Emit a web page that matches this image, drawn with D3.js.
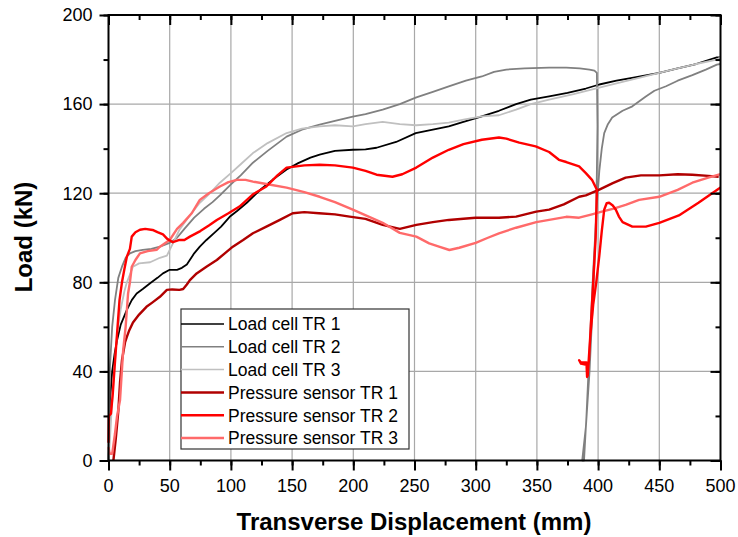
<!DOCTYPE html>
<html><head><meta charset="utf-8">
<script src="https://cdn.jsdelivr.net/npm/d3@7"></script>
<style>body{margin:0;background:#fff;} text{font-family:"Liberation Sans",Arial,sans-serif;}</style>
</head><body><svg id="c" width="738" height="537"></svg>
<script>
const xTicks=[0,50,100,150,200,250,300,350,400,450,500];
const yTicks=[0,40,80,120,160,200];
const seriesNames=["Load cell TR 1","Load cell TR 2","Load cell TR 3","Pressure sensor TR 1","Pressure sensor TR 2","Pressure sensor TR 3"];
const seriesColors=["#000000","#808080","#c0c0c0","#b00000","#ff0000","#ff6a6a"];
const seriesWidths=[1.8,1.8,1.8,2.4,2.4,2.4];

const loadCell1=[[0,0],[0.5,10],[1.2,27],[3,40],[5,48],[7,54],[10,61],[15,67.6],[19,72],[23,75],[28,77],[34,79.6],[40,82],[44.5,84],[50,85.6],[56,85.6],[60,86.5],[64,88],[70,93],[74.6,96],[80,99],[86,102],[92,105],[99,109.4],[105,112],[113,115.7],[118,118.4],[125,122],[134,126],[145.5,130.6],[155,133.5],[165,136],[172.5,137.3],[185,139],[199.6,139.5],[210,139.7],[219,140.4],[235,143],[251,147],[265,148.5],[278,150],[290,152],[305,154.5],[319,157],[333,160],[345,162],[360,163.5],[375,165],[390,167],[401,168.8],[415,170.5],[430,172],[450,174],[465,176],[480,178],[497,181],[500,181]];
const loadCell2=[[0,0],[0.5,15],[1.2,42],[3,60],[5.3,72],[8,82],[11,87],[14,91],[17.5,93],[22,94],[28,94.6],[35,95],[42,96],[50,97.7],[56,100],[62,104],[70,109],[78,113],[85,116],[91,119],[100,124],[108,128],[118,133.7],[130,139],[145.5,145.4],[158,148.5],[172.5,150.8],[185,152.5],[199.6,154.4],[210,155.5],[224,157.5],[238,160],[251.5,163],[265,165.5],[278,168],[292,170.5],[305,172.4],[315,174.5],[325,175.5],[340,176],[360,176.4],[374,176.4],[385,176],[393,175.5],[397,175],[399,174],[399.5,150],[398.5,110],[396,75],[393,40],[390,15],[387,0],[388.5,0],[390.5,20],[393,50],[396,85],[399,115],[401,130],[403,140],[405,147],[408,151],[411.5,154],[420,157],[428,159],[439,163.4],[446,166],[455.5,168],[465,170.5],[477,173],[488,175.5],[497,177.7],[500,178]];
const loadCell3=[[0,0],[1,8],[2.5,22],[4,35],[7,57],[10,68],[13,76],[15,80],[20,87],[25,88.5],[34,89],[42,91],[47.7,92],[50,94.6],[54,99],[58,103.6],[65,109],[74.6,115.7],[82,119.5],[91,124.7],[100,129],[108,133],[118,138],[130,142.5],[145.5,147],[158,149],[172.5,150],[185,150.5],[199.6,150],[210,151],[224,152],[238,151],[251.5,150.5],[265,151],[278,151.7],[290,153],[305,154.5],[319,155],[333,157.5],[345,160],[360,162],[380,164.5],[401,167.4],[420,170],[435,172],[450,174],[465,176],[480,178],[497,180],[500,181]];
const pressure1=[[4,0],[6,10],[8,22],[9.4,35],[11,45],[13.5,53],[15,55.5],[17,58.5],[20,62],[25,65.5],[31,69],[36,71],[42,73.5],[47.7,76.6],[52,76.8],[58,76.6],[61,77],[64,79],[66.5,81],[72,84],[80,87],[88.5,90],[95,93],[101.6,96],[110,99],[118,102],[129,105],[140,108],[150.5,111],[160,111.5],[172,111],[185,110.5],[197,109.5],[210,108.5],[224,105.8],[238,104],[251.5,105.8],[265,107],[278,108],[290,108.5],[300,109],[319,109],[333,109.5],[349.5,111.7],[360,112.6],[372,115],[384.5,118.4],[390,119],[401,121.6],[412,124.5],[422.5,127],[435,128],[450,128],[465,128.5],[477,128.3],[490,127.8],[498.5,127.4]];
const pressure2=[[0,8],[0.3,20],[2,21],[3.5,30],[5,42],[7,57],[9,72],[11,80],[13,86],[15,91.5],[17.5,95],[19,100.5],[22,102.5],[25.7,103.6],[30,104],[36,103.5],[40,102.5],[44.5,101.5],[48,99.5],[52.6,98],[58,99],[62,99],[66.5,100.5],[75,103],[82,105.5],[88.5,108],[98,111],[107,114],[118,119.5],[129,123],[138,128],[145.5,131.5],[160,132.5],[172.5,132.8],[185,132.5],[199.6,131.5],[210,130],[219,128.3],[232,127.4],[240,128.5],[251.5,131.5],[265,136],[278,139.5],[290,142],[305,144],[319,145],[325,144.5],[335.6,142.7],[349,141],[360,138.5],[368,135],[374,134],[384.5,132],[390,129],[395,126],[399,121.6],[398,100],[396,80],[394,60],[392.5,45],[391,37.5],[390.5,44],[386,44],[384.5,45],[386,43.5],[390.5,43],[391.5,38],[393.5,55],[396,70],[398.5,80],[401,92],[403,103],[405,112.6],[407,115.5],[409,115.7],[412,114.5],[414.5,112.6],[417,109.5],[420,107],[428,105],[439,105],[450,106.7],[466,110],[482,115.7],[498.5,122],[500,122.5]];
const pressure3=[[0,6],[1,3],[3,3],[5.3,12],[7,20],[9.4,27],[12,49.6],[14,60],[16,75],[17.5,80],[19,87],[22,90],[25.7,93],[32,94],[39.5,94.6],[42,96],[50,99],[56,104],[61,106.7],[68,111],[74.6,117],[82,120],[91,123],[98,125],[105,126],[112,126],[118,125.2],[130,124],[145.5,122.5],[160,120.5],[172.5,118.4],[185,116],[199.6,112.6],[213,109.4],[224,106.7],[238,102.2],[251.5,100.5],[262,97.5],[270,96],[278.5,94.5],[286.6,95.5],[300,97.7],[310,100],[319,102],[333,104.5],[349.5,107],[360,108],[374,109.4],[384.5,109],[395,110.5],[403,111.7],[412,113],[422.5,114.8],[433.5,117],[450,118.4],[465,121.5],[477,124.7],[490,127],[498.5,128.3],[500,128.5]];
const seriesData=[loadCell1,loadCell2,loadCell3,pressure1,pressure2,pressure3];

const svg=d3.select("#c");
const x=d3.scaleLinear().domain([0,500]).range([108.5,720.5]);
const y=d3.scaleLinear().domain([0,200]).range([460.5,15]);
const L=x.range()[0],R=x.range()[1],T=y.range()[1],B=y.range()[0];

// grid
const g=svg.append("g");
g.selectAll(".gx").data(xTicks.slice(1,-1)).join("line")
 .attr("x1",d=>x(d)).attr("x2",d=>x(d)).attr("y1",T).attr("y2",B)
 .attr("stroke","#a8a8a8").attr("stroke-width",1.2);
g.selectAll(".gy").data(yTicks.slice(1,-1)).join("line")
 .attr("y1",d=>y(d)).attr("y2",d=>y(d)).attr("x1",L).attr("x2",R)
 .attr("stroke","#a8a8a8").attr("stroke-width",1.2);

// series
const line=d3.line().x(d=>x(d[0])).y(d=>y(d[1]));
const order=[0,1,2,3,5,4];
order.forEach(i=>{
  svg.append("path").datum(seriesData[i]).attr("d",line)
   .attr("fill","none").attr("stroke",seriesColors[i]).attr("stroke-width",seriesWidths[i])
   .attr("stroke-linejoin","round");
});

// axes
const minorX=d3.range(0,501,25), minorY=d3.range(0,201,20);
function styleAxis(sel){sel.select(".domain").remove();sel.selectAll("line").attr("stroke","#000").attr("stroke-width",2);sel.selectAll("text").remove();}
svg.append("g").attr("transform",`translate(0,${B})`).call(d3.axisBottom(x).tickValues(minorX).tickSize(5)).call(styleAxis);
svg.append("g").attr("transform",`translate(0,${B})`).call(d3.axisBottom(x).tickValues(xTicks).tickSize(10)).call(styleAxis);
svg.append("g").attr("transform",`translate(0,${T})`).call(d3.axisTop(x).tickValues(minorX).tickSize(-5)).call(styleAxis);
svg.append("g").attr("transform",`translate(0,${T})`).call(d3.axisTop(x).tickValues(xTicks).tickSize(-10)).call(styleAxis);
svg.append("g").attr("transform",`translate(${L},0)`).call(d3.axisLeft(y).tickValues(minorY).tickSize(5)).call(styleAxis);
svg.append("g").attr("transform",`translate(${L},0)`).call(d3.axisLeft(y).tickValues(yTicks).tickSize(9)).call(styleAxis);
svg.append("g").attr("transform",`translate(${R},0)`).call(d3.axisRight(y).tickValues(minorY).tickSize(-5)).call(styleAxis);
svg.append("g").attr("transform",`translate(${R},0)`).call(d3.axisRight(y).tickValues(yTicks).tickSize(-10)).call(styleAxis);
svg.append("rect").attr("x",L).attr("y",T).attr("width",R-L).attr("height",B-T)
 .attr("fill","none").attr("stroke","#000").attr("stroke-width",2);

// tick labels
svg.selectAll(".xl").data(xTicks).join("text").attr("x",d=>x(d)).attr("y",492)
 .attr("text-anchor","middle").attr("font-size",18).text(d=>d);
svg.selectAll(".yl").data(yTicks).join("text").attr("x",92.5).attr("y",d=>y(d)).attr("dy","0.35em")
 .attr("text-anchor","end").attr("font-size",18).text(d=>d);

// titles
svg.append("text").attr("x",414).attr("y",530).attr("text-anchor","middle")
 .attr("font-size",24).attr("font-weight","bold").text("Transverse Displacement (mm)");
svg.append("text").attr("transform","translate(32,237) rotate(-90)").attr("text-anchor","middle")
 .attr("font-size",24).attr("font-weight","bold").text("Load (kN)");

// legend
const lg=svg.append("g");
lg.append("rect").attr("x",181).attr("y",309).attr("width",228).attr("height",140)
 .attr("fill","#fff").attr("stroke","#333").attr("stroke-width",1.2);
seriesNames.forEach((n,i)=>{
  const cy=324+i*22.8;
  lg.append("line").attr("x1",181).attr("x2",224).attr("y1",cy).attr("y2",cy)
   .attr("stroke",seriesColors[i]).attr("stroke-width",i<3?1.5:2.5);
  lg.append("text").attr("x",228).attr("y",cy).attr("dy","0.36em").attr("font-size",17.5).text(n);
});
</script></body></html>
